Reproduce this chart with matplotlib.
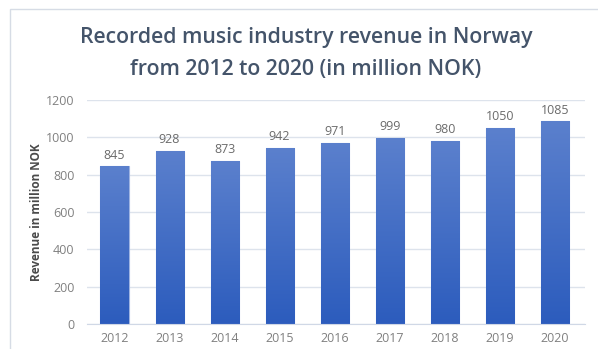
import numpy as np
import matplotlib.pyplot as plt
from matplotlib.patches import Rectangle
from matplotlib.colors import LinearSegmentedColormap

years = ['2012', '2013', '2014', '2015', '2016', '2017', '2018', '2019', '2020']
revenue = [845, 928, 873, 942, 971, 999, 980, 1050, 1085]
yticks = [0, 200, 400, 600, 800, 1000, 1200]

plt.rcParams['font.family'] = ['Open Sans', 'DejaVu Sans']

fig = plt.figure(figsize=(5.98, 3.49), dpi=100)
fig.patches.append(Rectangle((10/598, -0.1), 1.0, 1.1 - 9/349, transform=fig.transFigure,
                             fill=False, edgecolor='#d6dce5', linewidth=1.0))
ax = fig.add_axes([87/598, 25/349, 498/598, 224/349])

x = np.arange(len(years))
bars = ax.bar(x, revenue, width=0.51, color='#3a68c4', edgecolor='#9fb4e2', linewidth=0.8, zorder=2)

# vertical gradient fill for each bar
grad = LinearSegmentedColormap.from_list('bar', ['#2c5cbd', '#5b80cd'])
g = np.linspace(0, 1, 256).reshape(-1, 1)
for b in bars:
    x0, w, h = b.get_x(), b.get_width(), b.get_height()
    im = ax.imshow(g, cmap=grad, aspect='auto', origin='lower',
                   extent=[x0, x0 + w, 0, h], zorder=2.5)
    im.set_clip_path(b)

for xi, v in zip(x, revenue):
    ax.text(xi, v + 25, str(v), ha='center', va='bottom', fontsize=9, color='#6b6b6b')

ax.set_xlim(-0.5, 8.55)
ax.set_ylim(0, 1200)
ax.set_yticks(yticks)
ax.set_xticks(x)
ax.set_xticklabels(years)
ax.tick_params(axis='both', length=0, labelsize=9, colors='#808080')
ax.tick_params(axis='x', pad=6)
ax.tick_params(axis='y', pad=9)
ax.grid(axis='y', color='#dde3ec', linewidth=1.0, zorder=0)
for s in ['top', 'right', 'left']:
    ax.spines[s].set_visible(False)
ax.spines['bottom'].set_color('#d0d8e6')
ax.set_ylabel('Revenue in million NOK', fontsize=8.5, fontweight='bold', color='#4a4a4a')
ax.yaxis.set_label_coords(-(87 - 43) / 498, 0.5)

fig.text(306/598, 1 - 38/349, 'Recorded music industry revenue in Norway', ha='center', va='center',
         fontsize=15.3, color='#44546a', fontweight='semibold')
fig.text(306/598, 1 - 70/349, 'from 2012 to 2020 (in million NOK)', ha='center', va='center',
         fontsize=15.3, color='#44546a', fontweight='semibold')

fig.savefig('out.png', dpi=100)
